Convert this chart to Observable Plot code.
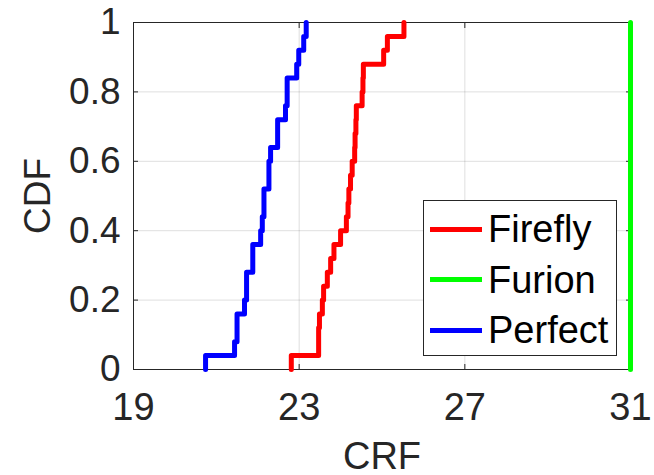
<!DOCTYPE html>
<html><head><meta charset="utf-8">
<script src="https://cdn.jsdelivr.net/npm/d3@7"></script>
<script src="https://cdn.jsdelivr.net/npm/@observablehq/plot@0.6"></script>
<style>
body{margin:0;background:#fff;}
#wrap{position:relative;width:654px;height:475px;font-family:"Liberation Sans",Arial,Helvetica,sans-serif;}
#legend{position:absolute;left:423px;top:200px;width:194px;height:156px;border:1px solid #262626;background:#fff;box-sizing:border-box}
.row{position:absolute;left:0;height:50px;display:flex;align-items:center}
.sw{width:52px;height:5px;margin-left:6px;margin-right:6px}
.lab{font-size:38px;color:#000;line-height:1}
</style></head>
<body><div id="wrap"></div>
<script>
const seriesNames = ["Firefly", "Furion", "Perfect"];
const seriesColors = ["#ff0000", "#00ff00", "#0000ff"];
const xTicks = [19, 23, 27, 31];
const yTicks = [0, 0.2, 0.4, 0.6, 0.8, 1];
const xLabel = "CRF";
const yLabel = "CDF";
const firefly = [22.81, 23.47, 23.47, 23.49, 23.56, 23.59, 23.68, 23.76, 23.84, 24.00, 24.14, 24.18, 24.20, 24.24, 24.28, 24.34, 24.35, 24.37, 24.38, 24.52, 24.54, 24.55, 25.04, 25.13, 25.53];
const furion = [31, 31, 31, 31, 31, 31, 31, 31, 31, 31, 31, 31, 31, 31, 31, 31, 31, 31, 31, 31, 31, 31, 31, 31, 31];
const perfect = [20.74, 21.44, 21.50, 21.50, 21.68, 21.73, 21.73, 21.88, 21.88, 22.07, 22.11, 22.15, 22.15, 22.27, 22.27, 22.31, 22.48, 22.48, 22.67, 22.71, 22.71, 22.94, 22.99, 23.11, 23.17];

const samples = [firefly, furion, perfect];
const rows = [];
samples.forEach((vals, k) => {
  const v = vals.slice().sort((a, b) => a - b);
  const n = v.length;
  rows.push({x: v[0], y: 0, s: seriesNames[k]});
  v.forEach((x, i) => rows.push({x, y: (i + 1) / n, s: seriesNames[k]}));
});

const font = '"Liberation Sans", Arial, Helvetica, sans-serif';
const chart = Plot.plot({
  width: 654, height: 475,
  marginLeft: 133, marginRight: 24, marginTop: 22, marginBottom: 106,
  style: {fontFamily: font, fontSize: "37px", color: "#262626", background: "#fff", overflow: "visible"},
  x: {domain: [19, 31]},
  y: {domain: [0, 1]},
  color: {domain: seriesNames, range: seriesColors},
  marks: [
    Plot.gridX(xTicks, {stroke: "#262626", strokeOpacity: 0.15, strokeWidth: 1}),
    Plot.gridY(yTicks, {stroke: "#262626", strokeOpacity: 0.15, strokeWidth: 1}),
    Plot.axisX(xTicks, {anchor: "bottom", tickSize: -5, tickPadding: 29, tickFormat: d => String(d), label: xLabel, labelAnchor: "center", labelArrow: "none", labelOffset: 99, fontSize: 38}),
    Plot.axisX(xTicks, {anchor: "top", tickSize: -5, tickFormat: () => "", label: null}),
    Plot.axisY(yTicks, {anchor: "left", tickSize: -5, tickPadding: 18, tickFormat: d => String(d), label: yLabel, labelAnchor: "center", labelArrow: "none", labelOffset: 110, fontSize: 37}),
    Plot.axisY(yTicks, {anchor: "right", tickSize: -5, tickFormat: () => "", label: null}),
    Plot.frame({stroke: "#262626", strokeWidth: 1}),
    Plot.line(rows, {x: "x", y: "y", z: "s", stroke: "s", curve: "step-after", strokeWidth: 5})
  ]
});
const wrap = document.getElementById("wrap");
wrap.appendChild(chart);

const legend = document.createElement("div");
legend.id = "legend";
seriesNames.forEach((name, i) => {
  const row = document.createElement("div");
  row.className = "row";
  row.style.top = (3 + i * 50.5) + "px";
  const sw = document.createElement("div");
  sw.className = "sw";
  sw.style.background = seriesColors[i];
  const lab = document.createElement("span");
  lab.className = "lab";
  lab.textContent = name;
  row.appendChild(sw);
  row.appendChild(lab);
  legend.appendChild(row);
});
wrap.appendChild(legend);
</script>
</body></html>
